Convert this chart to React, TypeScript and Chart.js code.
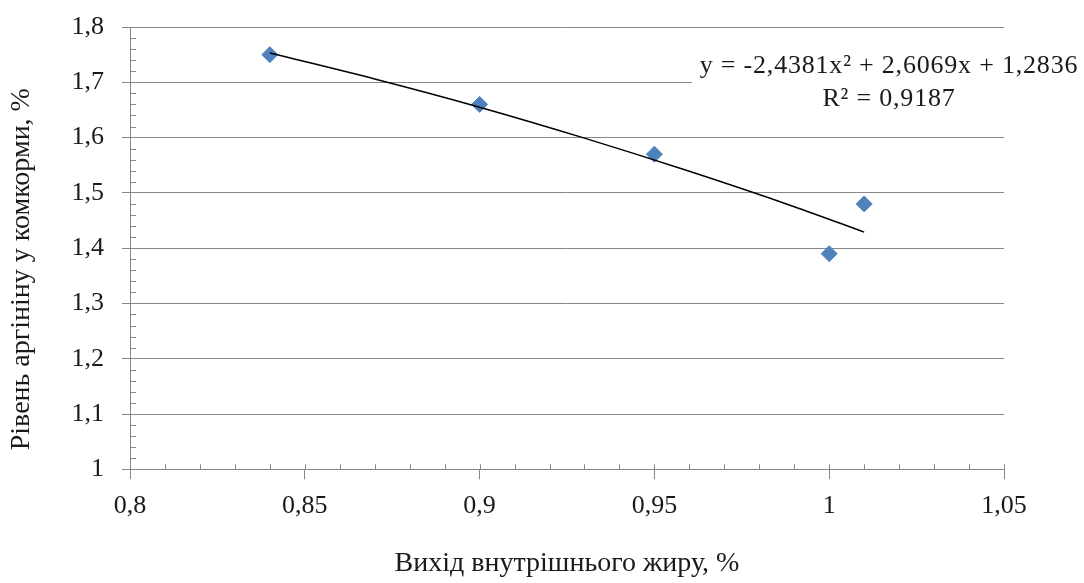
import { useEffect, useRef } from "react";
import { Chart, registerables, ChartConfiguration, Plugin } from "chart.js";

Chart.register(...registerables);

// measured points (x = вихід внутрішнього жиру, y = рівень аргініну)
const fatYield = [0.84, 0.9, 0.95, 1.0, 1.01];
const arginine = [1.75, 1.66, 1.57, 1.39, 1.48];

// polynomial trend line
const trendX = [0.84, 0.87, 0.9, 0.93, 0.96, 0.99, 1.01];
const trendY = [1.753, 1.706, 1.655, 1.599, 1.539, 1.475, 1.429];

const equationLines = ["y = -2,4381x² + 2,6069x + 1,2836", "R² = 0,9187"];

const FONT = "'Liberation Serif', 'Times New Roman', serif";
const AXIS_COLOR = "#878787";
const TEXT_COLOR = "#1a1a1a";
const MARKER_COLOR = "#4F81BD";

const comma = (v: number) => String(Math.round(v * 1000) / 1000).replace(".", ",");

const extras: Plugin = {
  id: "extras",
  beforeDatasetsDraw(chart) {
    const { ctx, scales } = chart;
    const x = scales.x;
    const y = scales.y;
    ctx.save();
    ctx.strokeStyle = AXIS_COLOR;
    ctx.lineWidth = 1;
    ctx.beginPath();
    // minor ticks on x axis (inside), also the inner half of the majors
    for (let i = 0; i <= 25; i++) {
      const px = Math.round(x.getPixelForValue(0.8 + i * 0.01)) + 0.5;
      ctx.moveTo(px, y.bottom);
      ctx.lineTo(px, y.bottom - 5);
    }
    // minor ticks on y axis (inside)
    for (let i = 0; i <= 40; i++) {
      if (i % 5 === 0) continue;
      const py = Math.round(y.getPixelForValue(1 + i * 0.02)) + 0.5;
      ctx.moveTo(x.left, py);
      ctx.lineTo(x.left + 6, py);
    }
    ctx.stroke();

    // trend-line label with white background
    ctx.fillStyle = "#ffffff";
    ctx.fillRect(692, 36, 392, 92);
    ctx.fillStyle = TEXT_COLOR;
    ctx.font = `26px ${FONT}`;
    (ctx as any).letterSpacing = "0.8px";
    ctx.textAlign = "center";
    ctx.textBaseline = "middle";
    ctx.fillText(equationLines[0], 889, 66);
    ctx.fillText(equationLines[1], 889, 99);
    (ctx as any).letterSpacing = "0px";
    ctx.restore();
  },
};

export default function App() {
  const canvasRef = useRef<HTMLCanvasElement>(null);

  useEffect(() => {
    if (!canvasRef.current) return;

    const config: ChartConfiguration = {
      type: "scatter",
      data: {
        datasets: [
          {
            type: "line",
            label: "Trend",
            data: trendX.map((v, i) => ({ x: v, y: trendY[i] })),
            borderColor: "#000000",
            borderWidth: 1.5,
            pointRadius: 0,
            showLine: true,
            fill: false,
            cubicInterpolationMode: "monotone",
            order: 0,
          },
          {
            label: "Arginine",
            data: fatYield.map((v, i) => ({ x: v, y: arginine[i] })),
            pointStyle: "rectRot",
            pointRadius: 8,
            backgroundColor: MARKER_COLOR,
            borderColor: MARKER_COLOR,
            borderWidth: 1,
            order: 1,
          },
        ],
      },
      options: {
        responsive: true,
        maintainAspectRatio: false,
        animation: false,
        layout: { padding: { top: 27, right: 80, bottom: 0, left: 0 } },
        plugins: {
          legend: { display: false },
          tooltip: { enabled: false },
        },
        scales: {
          x: {
            type: "linear",
            min: 0.8,
            max: 1.05,
            afterFit: (scale: any) => {
              scale.height = 113.7;
              scale.paddingLeft = 0;
              scale.paddingRight = 0;
            },
            ticks: {
              stepSize: 0.05,
              padding: 11,
              color: TEXT_COLOR,
              font: { family: FONT, size: 26 },
              callback: (v) => comma(Number(v)),
            },
            grid: {
              drawOnChartArea: false,
              drawTicks: true,
              tickLength: 10,
              color: AXIS_COLOR,
            },
            border: { display: true, color: AXIS_COLOR },
            title: {
              display: true,
              text: "Вихід внутрішнього жиру, %",
              color: TEXT_COLOR,
              font: { family: FONT, size: 28 },
              padding: { top: 0, bottom: 3 },
            },
          },
          y: {
            type: "linear",
            min: 1,
            max: 1.8,
            afterFit: (scale: any) => {
              scale.width = 130;
              scale.paddingTop = 0;
              scale.paddingBottom = 0;
            },
            ticks: {
              stepSize: 0.1,
              padding: 18,
              color: TEXT_COLOR,
              font: { family: FONT, size: 26 },
              callback: (v) => comma(Number(v)),
            },
            grid: {
              drawTicks: true,
              tickLength: 8,
              color: AXIS_COLOR,
            },
            border: { display: true, color: AXIS_COLOR },
            title: {
              display: true,
              // trailing spaces move the centred title down a little, as in the original
              text: "Рівень аргініну у комкорми, %\u00A0\u00A0\u00A0\u00A0\u00A0\u00A0",
              color: TEXT_COLOR,
              font: { family: FONT, size: 28 },
              padding: { top: 5, bottom: 0 },
            },
          },
        },
      },
      plugins: [extras],
    };

    const chart = new Chart(canvasRef.current, config);
    return () => chart.destroy();
  }, []);

  return (
    <div
      style={{
        position: "absolute",
        left: 0,
        top: 0,
        width: 1084,
        height: 583,
        background: "#ffffff",
      }}
    >
      <canvas ref={canvasRef} />
    </div>
  );
}
